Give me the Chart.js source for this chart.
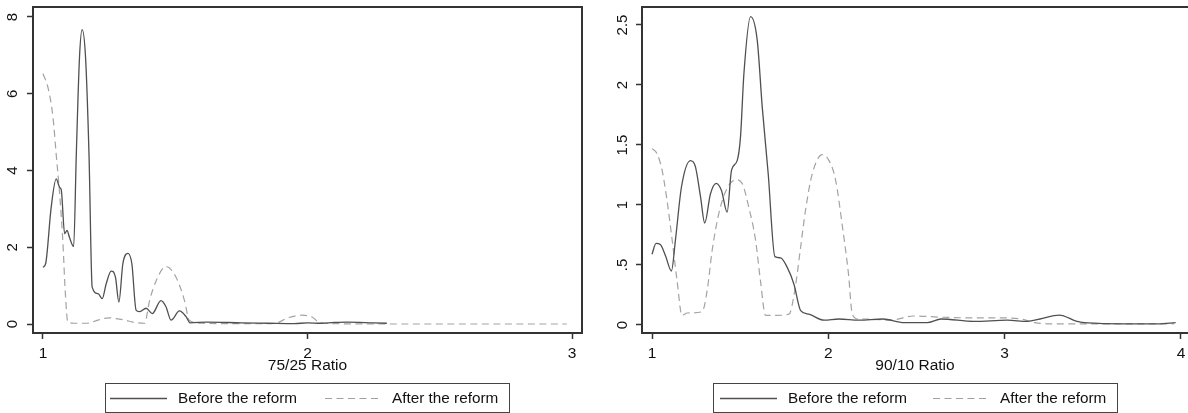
<!DOCTYPE html>
<html>
<head>
<meta charset="utf-8">
<script src="https://cdn.jsdelivr.net/npm/chart.js@4.4.1/dist/chart.umd.min.js"></script>
<style>
  html, body { margin: 0; padding: 0; background: #fff; }
  #wrap { position: relative; width: 1188px; height: 413px; overflow: hidden; background: #fff; }
  .panel { position: absolute; top: 0; width: 594px; height: 413px; }
  .panel canvas { position: absolute; left: 0; top: 0; }
  .legend { position: absolute; top: 383px; width: 403px; height: 28px; border: 1px solid #444; box-sizing: content-box;
            font-family: "Liberation Sans", Arial, sans-serif; font-size: 15.3px; color: #111; }
  .legend .lab { position: absolute; top: 0; line-height: 28px; white-space: nowrap; }
  .legend svg { position: absolute; top: 0; }
</style>
</head>
<body>
<div id="wrap">
  <div class="panel" style="left:0"><canvas id="c1" width="594" height="413"></canvas>
    <div class="legend" style="left:105px">
      <svg width="60" height="28" style="left:4px"><line x1="0" y1="14.5" x2="57" y2="14.5" stroke="#505050" stroke-width="1.3"/></svg>
      <span class="lab" style="left:72px">Before the reform</span>
      <svg width="60" height="28" style="left:219px"><line x1="0" y1="14.5" x2="57" y2="14.5" stroke="#a0a0a0" stroke-width="1.2" stroke-dasharray="7,4.5"/></svg>
      <span class="lab" style="left:286px">After the reform</span>
    </div>
  </div>
  <div class="panel" style="left:594px"><canvas id="c2" width="594" height="413"></canvas>
    <div class="legend" style="left:119px">
      <svg width="60" height="28" style="left:6px"><line x1="0" y1="14.5" x2="57" y2="14.5" stroke="#505050" stroke-width="1.3"/></svg>
      <span class="lab" style="left:74px">Before the reform</span>
      <svg width="60" height="28" style="left:219px"><line x1="0" y1="14.5" x2="57" y2="14.5" stroke="#a0a0a0" stroke-width="1.2" stroke-dasharray="7,4.5"/></svg>
      <span class="lab" style="left:286px">After the reform</span>
    </div>
  </div>
</div>
<script>
// ---------- data ----------
const seriesNames = ["Before the reform", "After the reform"];

// Panel 1: 75/25 Ratio
const leftBeforeX = [1.0, 1.01, 1.031, 1.05, 1.063, 1.069, 1.082, 1.091, 1.10, 1.116, 1.126, 1.138, 1.148, 1.161, 1.174, 1.186, 1.208, 1.224, 1.239, 1.258, 1.274, 1.287, 1.302, 1.321, 1.336, 1.352, 1.364, 1.39, 1.413, 1.446, 1.465, 1.484, 1.516, 1.541, 1.556, 1.62, 1.75, 1.85, 1.95, 2.0, 2.05, 2.1, 2.15, 2.25, 2.3];
const leftBeforeY = [1.48, 1.57, 3.04, 3.78, 3.56, 3.5, 2.35, 2.44, 2.26, 2.02, 4.42, 6.94, 7.67, 6.94, 4.42, 0.96, 0.79, 0.66, 1.05, 1.38, 1.22, 0.57, 1.57, 1.84, 1.57, 0.36, 0.32, 0.41, 0.27, 0.61, 0.45, 0.10, 0.34, 0.19, 0.03, 0.05, 0.03, 0.02, 0.01, 0.03, 0.02, 0.04, 0.05, 0.03, 0.02];
const leftAfterX = [1.0, 1.019, 1.038, 1.05, 1.063, 1.075, 1.084, 1.094, 1.12, 1.167, 1.2, 1.226, 1.25, 1.277, 1.31, 1.34, 1.384, 1.403, 1.428, 1.465, 1.503, 1.535, 1.553, 1.6, 1.7, 1.8, 1.876, 1.93, 1.98, 2.02, 2.045, 2.1, 2.3, 2.5, 2.7, 2.98];
const leftAfterY = [6.52, 6.16, 5.38, 4.42, 3.39, 2.17, 0.87, 0.05, 0.02, 0.02, 0.08, 0.14, 0.16, 0.14, 0.1, 0.05, 0.02, 0.61, 1.13, 1.50, 1.22, 0.61, 0.10, 0.02, 0.01, 0.01, 0.02, 0.17, 0.23, 0.17, 0.04, 0.01, 0, 0, 0, 0];

// Panel 2: 90/10 Ratio
const rightBeforeX = [1.0, 1.023, 1.047, 1.076, 1.11, 1.133, 1.167, 1.218, 1.246, 1.275, 1.299, 1.331, 1.364, 1.394, 1.426, 1.451, 1.483, 1.502, 1.521, 1.559, 1.597, 1.625, 1.659, 1.697, 1.729, 1.767, 1.805, 1.843, 1.89, 1.976, 2.06, 2.174, 2.31, 2.43, 2.56, 2.64, 2.826, 3.015, 3.13, 3.2, 3.31, 3.41, 3.47, 3.68, 3.87, 3.97];
const rightBeforeY = [0.59, 0.68, 0.67, 0.58, 0.45, 0.71, 1.15, 1.37, 1.32, 1.07, 0.85, 1.09, 1.18, 1.12, 0.94, 1.29, 1.37, 1.57, 2.09, 2.57, 2.37, 1.82, 1.26, 0.57, 0.56, 0.48, 0.34, 0.12, 0.09, 0.04, 0.05, 0.04, 0.05, 0.02, 0.02, 0.05, 0.03, 0.04, 0.03, 0.05, 0.083, 0.03, 0.017, 0.01, 0.01, 0.02];
const rightAfterX = [1.0, 1.028, 1.057, 1.085, 1.114, 1.142, 1.17, 1.199, 1.284, 1.313, 1.341, 1.379, 1.426, 1.477, 1.511, 1.549, 1.587, 1.615, 1.644, 1.70, 1.777, 1.81, 1.843, 1.871, 1.909, 1.966, 2.004, 2.041, 2.08, 2.114, 2.136, 2.17, 2.22, 2.35, 2.485, 2.64, 2.79, 2.94, 3.09, 3.17, 3.24, 3.38, 3.96];
const rightAfterY = [1.47, 1.43, 1.29, 1.04, 0.71, 0.37, 0.08, 0.1, 0.11, 0.29, 0.62, 0.93, 1.14, 1.21, 1.18, 0.98, 0.71, 0.37, 0.08, 0.08, 0.09, 0.29, 0.65, 0.96, 1.26, 1.42, 1.37, 1.21, 0.82, 0.43, 0.09, 0.05, 0.05, 0.04, 0.075, 0.065, 0.06, 0.06, 0.05, 0.02, 0.01, 0.01, 0.01];

// Tick values and labels
const leftXTicks = [1, 2, 3];
const leftYTicks = [0, 2, 4, 6, 8];
const leftYLabels = ["0", "2", "4", "6", "8"];
const rightXTicks = [1, 2, 3, 4];
const rightYTicks = [0, 0.5, 1, 1.5, 2, 2.5];
const rightYLabels = ["0", ".5", "1", "1.5", "2", "2.5"];
const leftTitle = "75/25 Ratio";
const rightTitle = "90/10 Ratio";

// ---------- chart building ----------
const FONT = '"Liberation Sans", Arial, sans-serif';
const AXIS = '#333333';

function pts(xs, ys) { return xs.map((x, i) => ({x: x, y: ys[i]})); }

const boxPlugin = {
  id: 'boxPlugin',
  afterDraw(chart, args, opts) {
    const {ctx, chartArea: a} = chart;
    ctx.save();
    ctx.strokeStyle = AXIS;
    ctx.lineWidth = 2;
    ctx.beginPath();
    ctx.moveTo(a.left - 1, a.top);
    ctx.lineTo(a.right, a.top);
    if (opts.right) { ctx.lineTo(a.right, a.bottom); }
    ctx.stroke();
    ctx.restore();
  }
};

function makeChart(id, cfg) {
  return new Chart(document.getElementById(id), {
    type: 'line',
    data: {
      datasets: [
        { label: seriesNames[0], data: pts(cfg.bx, cfg.by), borderColor: '#505050', borderWidth: 1.3,
          pointRadius: 0, cubicInterpolationMode: 'monotone', fill: false },
        { label: seriesNames[1], data: pts(cfg.ax, cfg.ay), borderColor: '#a3a3a3', borderWidth: 1.2,
          borderDash: [7, 4.5], pointRadius: 0, cubicInterpolationMode: 'monotone', fill: false }
      ]
    },
    plugins: [boxPlugin],
    options: {
      responsive: false, animation: false, devicePixelRatio: 1, events: [],
      layout: { padding: { left: 0, top: 7, right: cfg.padRight, bottom: 35 } },
      plugins: { legend: { display: false }, tooltip: { enabled: false }, boxPlugin: { right: cfg.rightBorder } },
      scales: {
        x: {
          type: 'linear', min: cfg.xmin, max: cfg.xmax,
          afterBuildTicks: s => { s.ticks = cfg.xt.map(v => ({value: v})); },
          afterFit: s => { s.height = 45; s.paddingLeft = 0; s.paddingRight = 0; },
          grid: { drawOnChartArea: false, drawTicks: true, tickLength: 6, tickWidth: 1.5, tickColor: AXIS },
          border: { display: true, color: AXIS, width: 2 },
          ticks: { font: { family: FONT, size: 15.5 }, color: '#111', padding: 5, maxRotation: 0, autoSkip: false,
                   callback: v => String(v) },
          title: { display: true, text: cfg.title, font: { family: FONT, size: 15.5 }, color: '#111',
                   padding: { top: 0, bottom: 3 } }
        },
        y: {
          type: 'linear', min: cfg.ymin, max: cfg.ymax,
          afterBuildTicks: s => { s.ticks = cfg.yt.map(v => ({value: v})); },
          afterFit: s => { s.width = cfg.yw; s.paddingTop = 0; s.paddingBottom = 0; },
          grid: { drawOnChartArea: false, drawTicks: true, tickLength: 6, tickWidth: 1.5, tickColor: AXIS },
          border: { display: true, color: AXIS, width: 2 },
          ticks: { font: { family: FONT, size: 15 }, color: '#111', padding: cfg.ypad, minRotation: 90, maxRotation: 90,
                   crossAlign: 'center', autoSkip: false,
                   callback: (v) => { const i = cfg.yt.indexOf(v); return i >= 0 ? cfg.yl[i] : ''; } }
        }
      }
    }
  });
}

makeChart('c1', {
  bx: leftBeforeX, by: leftBeforeY, ax: leftAfterX, ay: leftAfterY,
  xt: leftXTicks, yt: leftYTicks, yl: leftYLabels, title: leftTitle,
  xmin: 0.9623, xmax: 3.0377, ymin: -0.2345, ymax: 8.26,
  yw: 33, ypad: 10, padRight: 12, rightBorder: true
});
makeChart('c2', {
  bx: rightBeforeX, by: rightBeforeY, ax: rightAfterX, ay: rightAfterY,
  xt: rightXTicks, yt: rightYTicks, yl: rightYLabels, title: rightTitle,
  xmin: 0.9432, xmax: 4.04, ymin: -0.0667, ymax: 2.65,
  yw: 48, ypad: 3, padRight: 0, rightBorder: false
});
</script>
</body>
</html>
